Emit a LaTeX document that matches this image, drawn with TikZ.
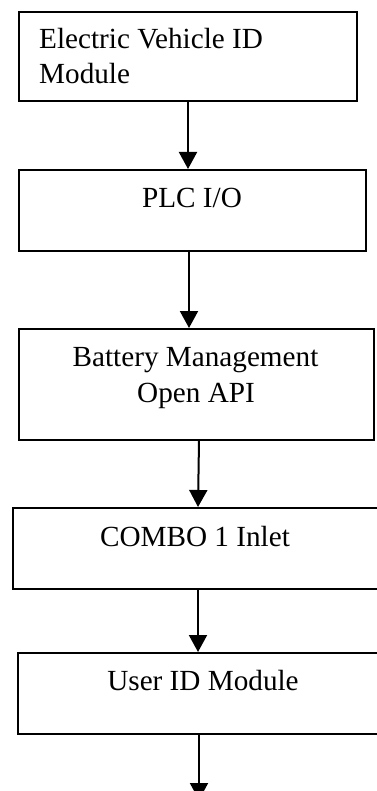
\documentclass[tikz,border=0pt]{standalone}
\usepackage{fontspec}
\setmainfont{Liberation Serif}
\usetikzlibrary{arrows.meta}
\begin{document}
\begin{tikzpicture}[x=1pt,y=-1pt,
  box/.style={draw=black,line width=1.6pt,fill=white,inner sep=0pt,anchor=north west},
  txt/.style={font=\fontsize{29.2}{35}\selectfont,inner sep=0pt},
  arr/.style={draw=black,line width=2pt,-{Triangle[length=17pt,width=18pt]}}]
\useasboundingbox (0,0) rectangle (376,791);
\fill[white] (0,0) rectangle (376,791);
% boxes
\node[box,minimum width=338pt,minimum height=89pt] (b1) at (18,11) {};
\node[box,minimum width=347pt,minimum height=81pt] (b2) at (18,169) {};
\node[box,minimum width=355pt,minimum height=111pt] (b3) at (18,328) {};
\node[box,minimum width=380pt,minimum height=81pt] (b4) at (12,507) {};
\node[box,minimum width=375pt,minimum height=81pt] (b5) at (17,652) {};
% texts
\node[txt,anchor=base west] (t1a) at (39,49) {Electric Vehicle ID};
\node[txt,anchor=base west] (t1b) at (39,84) {Module};
\node[txt,anchor=base] (t2) at (192,208) {PLC I/O};
\node[txt,anchor=base] (t3a) at (195.5,366) {Battery Management};
\node[txt,anchor=base] (t3b) at (196,402) {Open API};
\node[txt,anchor=base] (t4) at (195,546) {COMBO 1 Inlet};
\node[txt,anchor=base] (t5) at (203,690) {User ID Module};
% connector positions
\coordinate (x1) at (188,0);
\coordinate (x2) at (189,0);
\coordinate (x3a) at (199,0);
\coordinate (x3b) at (198,0);
\coordinate (x4) at (198,0);
\coordinate (x5) at (199,0);
\coordinate (end) at (199,800);
% connectors
\draw[arr] (b1.south -| x1) -- (b2.north -| x1);
\draw[arr] (b2.south -| x2) -- (b3.north -| x2);
\draw[arr] (b3.south -| x3a) -- (b4.north -| x3b);
\draw[arr] (b4.south -| x4) -- (b5.north -| x4);
\draw[arr] (b5.south -| x5) -- (end);
\end{tikzpicture}
\end{document}
